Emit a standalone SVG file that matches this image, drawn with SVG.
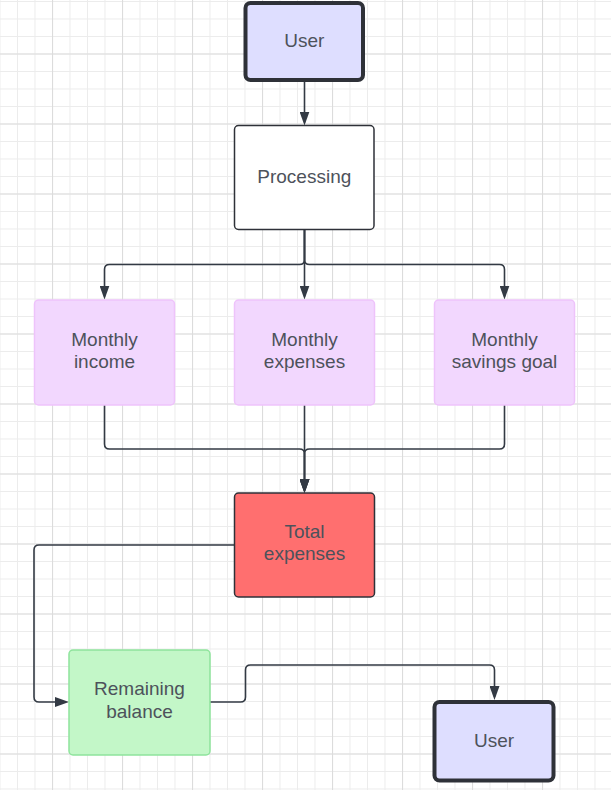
<svg xmlns="http://www.w3.org/2000/svg" width="611" height="790" viewBox="0 0 611 790">
  <defs>
    <pattern id="minor" patternUnits="userSpaceOnUse" x="-0.5" y="1" width="17.5" height="17.5">
      <path d="M0.5 0 V17.5 M0 0.5 H17.5" fill="none" stroke="#ececec" stroke-width="1"/>
    </pattern>
    <pattern id="major" patternUnits="userSpaceOnUse" x="52" y="53.5" width="70" height="70">
      <path d="M0.5 0 V70 M0 0.5 H70" fill="none" stroke="#dcdcdc" stroke-width="1.2"/>
    </pattern>
    <marker id="arrow" markerUnits="userSpaceOnUse" markerWidth="14" markerHeight="10" refX="11" refY="5" orient="auto">
      <path d="M0 0 L14 5 L0 10 Z" fill="#333a44"/>
    </marker>
    <style>
      .lbl { font-family: "Liberation Sans", Arial, sans-serif; font-size: 19px; fill: #4d525b; text-anchor: middle; }
      .user { fill: #dedeff; stroke: #2e3138; stroke-width: 4; }
      .plain { fill: #ffffff; stroke: #2e3138; stroke-width: 1.5; }
      .purple { fill: #f2d7fe; stroke: #eec3fb; stroke-width: 1.5; }
      .red { fill: #ff6f6f; stroke: #2e3138; stroke-width: 1.5; }
      .green { fill: #c3f7c8; stroke: #8ee49c; stroke-width: 1.5; }
      .conn { fill: none; stroke: #333a44; stroke-width: 1.6; marker-end: url(#arrow); }
    </style>
  </defs>

  <rect x="0" y="0" width="611" height="790" fill="#ffffff"/>
  <rect x="0" y="0" width="611" height="790" fill="url(#minor)"/>
  <rect x="0" y="0" width="611" height="790" fill="url(#major)"/>

  <g id="connectors">
    <path class="conn" d="M304.5 82 V122.5"/>
    <path class="conn" d="M304.5 230 V259.5 Q304.5 264.5 299.5 264.5 H109.5 Q104.5 264.5 104.5 269.5 V296.5"/>
    <path class="conn" d="M304.5 230 V296.5"/>
    <path class="conn" d="M304.5 230 V259.5 Q304.5 264.5 309.5 264.5 H499.5 Q504.5 264.5 504.5 269.5 V296.5"/>
    <path class="conn" d="M104.5 405 V444 Q104.5 449 109.5 449 H299.5 Q304.5 449 304.5 454 V490"/>
    <path class="conn" d="M304.5 405 V490"/>
    <path class="conn" d="M504.5 405 V444 Q504.5 449 499.5 449 H309.5 Q304.5 449 304.5 454 V490"/>
    <path class="conn" d="M234.5 545 H39 Q34 545 34 550 V697 Q34 702 39 702 H66"/>
    <path class="conn" d="M210 702 H240.5 Q245.5 702 245.5 697 V670 Q245.5 665 250.5 665 H489.5 Q494.5 665 494.5 670 V697"/>
  </g>

  <g id="user_top">
    <rect class="user" x="245.5" y="3" width="117.5" height="77" rx="5"/>
    <text class="lbl" x="304.3" y="47">User</text>
  </g>
  <g id="processing">
    <rect class="plain" x="234.5" y="125.5" width="139.5" height="104" rx="4"/>
    <text class="lbl" x="304.3" y="182.5">Processing</text>
  </g>
  <g id="monthly_income">
    <rect class="purple" x="34.5" y="300" width="140" height="105" rx="4"/>
    <text class="lbl" x="104.5" y="345.5">Monthly</text>
    <text class="lbl" x="104.5" y="368">income</text>
  </g>
  <g id="monthly_expenses">
    <rect class="purple" x="234.5" y="300" width="140" height="105" rx="4"/>
    <text class="lbl" x="304.5" y="345.5">Monthly</text>
    <text class="lbl" x="304.5" y="368">expenses</text>
  </g>
  <g id="monthly_savings_goal">
    <rect class="purple" x="434.5" y="300" width="140" height="105" rx="4"/>
    <text class="lbl" x="504.5" y="345.5">Monthly</text>
    <text class="lbl" x="504.5" y="368">savings goal</text>
  </g>
  <g id="total_expenses">
    <rect class="red" x="234.5" y="493" width="140" height="104" rx="4"/>
    <text class="lbl" x="304.5" y="537.5">Total</text>
    <text class="lbl" x="304.5" y="560">expenses</text>
  </g>
  <g id="remaining_balance">
    <rect class="green" x="69" y="650" width="141" height="105" rx="4"/>
    <text class="lbl" x="139.5" y="695">Remaining</text>
    <text class="lbl" x="139.5" y="717.5">balance</text>
  </g>
  <g id="user_bottom">
    <rect class="user" x="434.5" y="702" width="119" height="78.5" rx="5"/>
    <text class="lbl" x="494" y="746.5">User</text>
  </g>
</svg>
